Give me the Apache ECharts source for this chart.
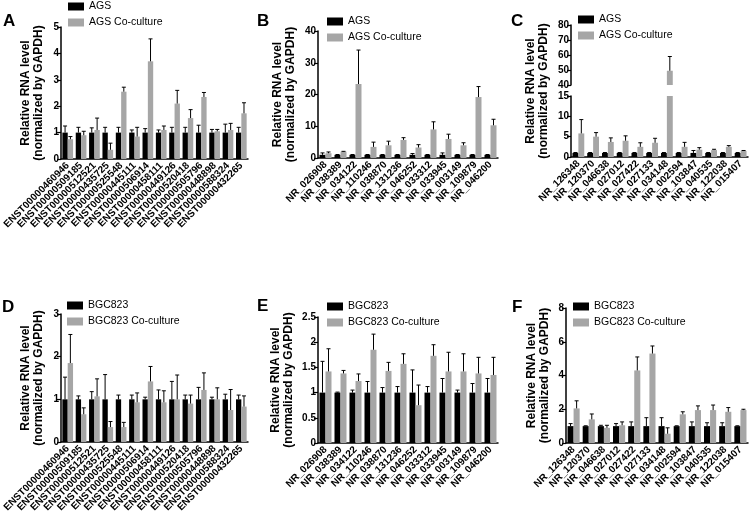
<!DOCTYPE html>
<html>
<head>
<meta charset="utf-8">
<style>
  html, body { margin: 0; padding: 0; background: #fff; }
  #main { width: 753px; height: 515px; }
</style>
</head>
<body>
<div id="main"></div>
<script src="https://cdn.jsdelivr.net/npm/echarts@6/dist/echarts.min.js"></script>
<script>
// ---- data ----
var catsENST = ['ENST00000460946','ENST00000509185','ENST00000512521','ENST00000435725','ENST00000525548',
    'ENST00000445111','ENST00000506914','ENST00000458111','ENST00000449126','ENST00000520418',
    'ENST00000505796','ENST00000448898','ENST00000588324','ENST00000432265'];
var catsB = ['NR_026908','NR_038389','NR_034122','NR_110246','NR_038870','NR_131236',
    'NR_046252','NR_033312','NR_033945','NR_003149','NR_109879','NR_046200'];
var catsC = ['NR_126348','NR_120370','NR_046638','NR_027012','NR_027422','NR_027133',
    'NR_034148','NR_002594','NR_103847','NR_040535','NR_122038','NR_015407'];

// A
var ctrlA = [1,1,1,1,1,1,1,1,1,1,1,1,1,1];
var ctrlSdA = [0.25,0.2,0.18,0.2,0.2,0.1,0.15,0.1,0.2,0.2,0.28,0.12,0.32,0.2];
var coA = [0.75,0.9,1.1,0.35,2.55,0.85,3.7,1.1,2.1,1.55,2.35,1.05,1.1,1.73];
var coSdA = [0.1,0.15,0.45,0.25,0.17,0.35,0.85,0.15,0.5,0.32,0.17,0.07,0.25,0.4];
// B
var ctrlB = [1,1,1,1,1,1,1,1,1,1,1,1];
var ctrlSdB = [0.6,0.1,0.1,0.1,0.1,0.1,0.4,0.1,0.6,0.1,0.1,0.1];
var coB = [1.5,2.0,23.3,3.5,4.0,5.7,3.3,9.0,6.0,4.0,19.2,10.3];
var coSdB = [0.4,0.1,10.7,1.5,1.3,0.7,0.9,2.4,1.5,0.8,3.3,1.9];
// C
var ctrlC = [1,1,1,1,1,1,1,1,1,1,1,1];
var ctrlSdC = [0.1,0.1,0.1,0.1,0.1,0.1,0.1,0.1,0.6,0.1,0.1,0.1];
var coC = [5.8,5.0,3.7,4.0,2.5,3.5,49.5,2.5,1.8,1.7,2.5,1.5];
var coSdC = [3.4,1.0,1.0,1.2,1.0,1.1,9.5,1.1,0.5,0.2,0.3,0.1];
// D
var ctrlD = [1,1,1,1,1,1,1,1,1,1,1,1,1,1];
var ctrlSdD = [0.52,0.08,0.18,0.58,0.1,0.1,0.05,0.22,0.42,0.1,0.28,0.05,0.12,0.1];
var coD = [1.85,0.65,1.07,0.35,0.35,0.93,1.42,0.93,1.0,0.9,1.22,1.0,0.75,0.83];
var coSdD = [0.67,0.15,0.41,0.13,0.11,0.22,0.35,0.27,0.57,0.2,0.4,0.27,0.48,0.25];
// E
var ctrlE = [1,1,1,1,1,1,1,1,1,1,1,1];
var ctrlSdE = [0.62,0.01,0.05,0.22,0.1,0.12,0.45,0.12,0.28,0.05,0.18,0.28];
var coE = [1.42,1.38,1.23,1.85,1.43,1.57,0.75,1.73,1.42,1.42,1.38,1.35];
var coSdE = [0.45,0.06,0.14,0.31,0.17,0.2,0.4,0.22,0.38,0.35,0.32,0.35];
// F
var ctrlF = [1,1,1,1,1,1,1,1,1,1,1,1];
var ctrlSdF = [0.15,0.02,0.05,0.15,0.25,0.5,0.5,0.02,0.25,0.2,0.2,0.02];
var coF = [2.05,1.4,0.9,1.05,4.3,5.3,0.55,1.7,1.95,1.95,1.85,1.95];
var coSdF = [0.45,0.32,0.15,0.2,0.8,0.45,0.35,0.15,0.25,0.3,0.25,0.05];

var BLACK = '#000';
var GRAY = '#a6a6a6';
var FONT = 'Liberation Sans, Arial, sans-serif';
var yName = 'Relative RNA level\n(normalized by GAPDH)';

var chart = echarts.init(document.getElementById('main'));

// grids: A, B, C-top, C-bottom, D, E, F, C-name holder
var grids = [
    {left: 60, top: 27, width: 188, height: 132},
    {left: 318, top: 31, width: 180, height: 127},
    {left: 571, top: 25, width: 177, height: 60},
    {left: 571, top: 96, width: 177, height: 61},
    {left: 59, top: 314, width: 189, height: 128},
    {left: 318, top: 317, width: 180, height: 126},
    {left: 566, top: 308, width: 182, height: 135},
    {left: 571, top: 25, width: 177, height: 132}
];

function xAx(grid, cats, show) {
    return {
        type: 'category', gridIndex: grid, data: cats, show: show,
        axisLine: {lineStyle: {color: BLACK, width: 1.5}},
        axisTick: {alignWithLabel: true, length: 3, lineStyle: {color: BLACK, width: 1.2}},
        axisLabel: {rotate: 45, interval: 0, margin: 5, color: BLACK, fontSize: 10, fontWeight: 'bold', fontFamily: FONT}
    };
}
function yAx(grid, min, max, step, name, gap) {
    return {
        type: 'value', gridIndex: grid, min: min, max: max, interval: step,
        name: name || '', nameLocation: 'middle', nameRotate: 90, nameGap: gap || 0,
        nameTextStyle: {color: BLACK, fontSize: 12, fontWeight: 'bold', lineHeight: 13, fontFamily: FONT},
        splitLine: {show: false},
        axisLine: {show: true, lineStyle: {color: BLACK, width: 1.5}},
        axisTick: {show: true, length: 4, lineStyle: {color: BLACK, width: 1.2}},
        axisLabel: {margin: 2, color: BLACK, fontSize: 10, fontWeight: 'bold', fontFamily: FONT}
    };
}

var xAxes = [
    xAx(0, catsENST, true), xAx(1, catsB, true), xAx(2, catsC, false), xAx(3, catsC, true),
    xAx(4, catsENST, true), xAx(5, catsB, true), xAx(6, catsC, true), xAx(7, catsC, false)
];
var yAxes = [
    yAx(0, 0, 5, 1, yName, 16),
    yAx(1, 0, 40, 10, yName, 21),
    yAx(2, 40, 80, 10),
    yAx(3, 0, 15, 5),
    yAx(4, 0, 3, 1, yName, 16),
    yAx(5, 0, 2.5, 0.5, yName, 23),
    yAx(6, 0, 8, 2, yName, 15),
    yAx(7, 0, 1, 1, yName, 21)
];
// the last axis only carries the name of panel C
yAxes[7].axisLine.show = false;
yAxes[7].axisTick.show = false;
yAxes[7].axisLabel.show = false;

function bar(name, idx, color, data) {
    return {
        name: name, type: 'bar', xAxisIndex: idx, yAxisIndex: idx, data: data,
        barGap: '0%', barCategoryGap: '20%', itemStyle: {color: color}, silent: true
    };
}

// error bars (upper only), side -1 = left bar, +1 = right bar
function err(idx, means, sds, side, lo, hi) {
    var data = [];
    means.forEach(function (m, i) {
        var top = m + sds[i];
        if (m >= lo && top <= hi) data.push([i, m, top]);
    });
    return {
        type: 'custom', xAxisIndex: idx, yAxisIndex: idx, silent: true, z: 5,
        data: data,
        renderItem: function (params, api) {
            var p0 = api.coord([api.value(0), api.value(1)]);
            var p1 = api.coord([api.value(0), api.value(2)]);
            var band = api.size([1, 0])[0];
            var x = p0[0] + side * band * 0.2;
            var st = {stroke: BLACK, lineWidth: 1};
            return {type: 'group', children: [
                {type: 'line', shape: {x1: x, y1: p0[1], x2: x, y2: p1[1]}, style: st},
                {type: 'line', shape: {x1: x - 2, y1: p1[1], x2: x + 2, y2: p1[1]}, style: st}
            ]};
        }
    };
}

function panel(idx, names, ctrl, ctrlSd, co, coSd, lo, hi) {
    return [
        bar(names[0], idx, BLACK, ctrl),
        bar(names[1], idx, GRAY, co),
        err(idx, ctrl, ctrlSd, -1, lo, hi),
        err(idx, co, coSd, 1, lo, hi)
    ];
}

var agsNames = ['AGS', 'AGS Co-culture'];
var bgcNames = ['BGC823', 'BGC823 Co-culture'];

var series = [].concat(
    panel(0, agsNames, ctrlA, ctrlSdA, coA, coSdA, -1, 99),
    panel(1, agsNames, ctrlB, ctrlSdB, coB, coSdB, -1, 99),
    // C broken axis: upper part only shows what goes above 40
    [bar(agsNames[0], 2, BLACK, ctrlC.map(function (v) { return v > 40 ? v : '-'; })),
     bar(agsNames[1], 2, GRAY, coC.map(function (v) { return v > 40 ? v : '-'; })),
     err(2, coC, coSdC, 1, 40, 80)],
    panel(3, agsNames, ctrlC, ctrlSdC, coC, coSdC, -1, 15),
    panel(4, bgcNames, ctrlD, ctrlSdD, coD, coSdD, -1, 99),
    panel(5, bgcNames, ctrlE, ctrlSdE, coE, coSdE, -1, 99),
    panel(6, bgcNames, ctrlF, ctrlSdF, coF, coSdF, -1, 99)
);

function legend(names, left, top) {
    return {
        data: names, left: left, top: top, orient: 'vertical', padding: 0,
        icon: 'rect', itemWidth: 16, itemHeight: 8, itemGap: 5, selectedMode: false,
        textStyle: {color: BLACK, fontSize: 10.5, fontFamily: FONT}
    };
}

function letter(t, left, top) {
    return {text: t, left: left, top: top, padding: 0,
        textStyle: {color: BLACK, fontSize: 17, fontWeight: 'bold', fontFamily: FONT}};
}

var option = {
    animation: false,
    textStyle: {fontFamily: FONT},
    title: [
        letter('A', 3, 13), letter('B', 257, 13), letter('C', 511, 13),
        letter('D', 2, 299), letter('E', 257, 298), letter('F', 512, 299)
    ],
    legend: [
        legend(agsNames, 68, 1), legend(agsNames, 327, 16), legend(agsNames, 578, 14),
        legend(bgcNames, 67, 300), legend(bgcNames, 327, 301), legend(bgcNames, 573, 301)
    ],
    grid: grids,
    xAxis: xAxes,
    yAxis: yAxes,
    series: series
};
chart.setOption(option);
</script>
</body>
</html>
